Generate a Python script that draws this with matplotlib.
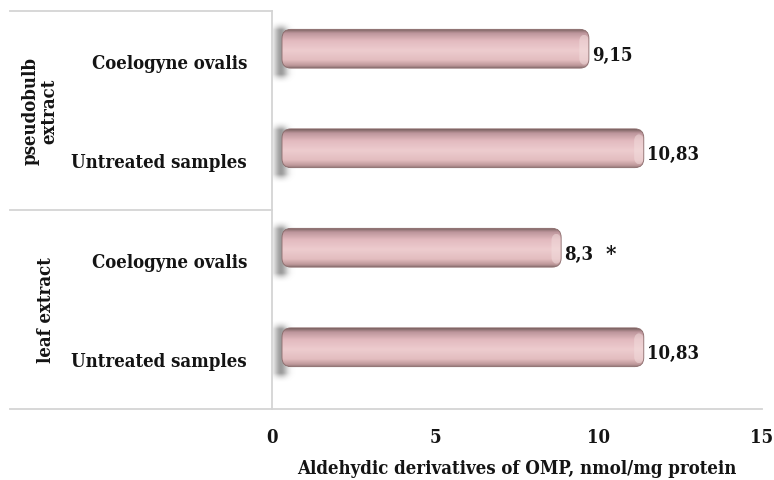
import numpy as np
import matplotlib.pyplot as plt
import matplotlib.transforms as mtransforms
from matplotlib.patches import FancyBboxPatch

# values (nmol/mg protein), bottom to top
categories = ["Untreated samples", "Coelogyne ovalis", "Untreated samples", "Coelogyne ovalis"]
values = [10.83, 8.3, 10.83, 9.15]
value_labels = ["10,83", "8,3", "10,83", "9,15"]
marks = ["", "*", "", ""]
groups = ["leaf extract", "pseudobulb\nextract"]
xticks = [0, 5, 10, 15]
xlabel = "Aldehydic derivatives of OMP, nmol/mg protein"

plt.rcParams['font.family'] = ['DejaVu Serif']
plt.rcParams['font.weight'] = 'bold'
plt.rcParams['font.stretch'] = 'condensed'
FS = 13.3
TXT = '#141414'

fig = plt.figure(figsize=(7.74, 4.81), dpi=100)
ax = fig.add_axes([272 / 774, 1 - 410 / 481, 490 / 774, 398 / 481])

ypos = np.arange(len(values))
bar_h = 0.39
ax.set_xlim(0, 15)
ax.set_ylim(-0.5, 3.5)

# 3D depth: bars shifted right/up in pixels
shift = mtransforms.ScaledTranslation(10 / 100, 12 / 100, fig.dpi_scale_trans)
tr = ax.transData + shift

# vertical shading of the cylinder
stops = [0.0, 0.06, 0.2, 0.45, 0.7, 0.9, 1.0]
cols = np.array([[0.55, 0.45, 0.45], [0.74, 0.59, 0.60], [0.89, 0.74, 0.75],
                 [0.93, 0.80, 0.81], [0.89, 0.73, 0.75], [0.74, 0.59, 0.61],
                 [0.48, 0.38, 0.38]])
t = np.linspace(0, 1, 80)
grad = np.stack([np.interp(t, stops, cols[:, k]) for k in range(3)], axis=-1)
grad = grad[:, None, :]

px_x = 490 / 15
px_y = 398 / 4
rad = 9 / px_x
aspect = (9 / px_y) / rad
cap = 8 / px_x

# soft shadow behind the left end of each bar
sx = np.linspace(-1, 1, 60)
sy = np.linspace(-1, 1, 100)
fade_y = np.clip((1 - np.abs(sy)) / 0.3, 0, 1) ** 2
shade_a = np.exp(-(sx[None, :] / 0.45) ** 2) * fade_y[:, None] * 0.6
shade = np.zeros((100, 60, 4))
shade[..., :3] = 0.35
shade[..., 3] = shade_a

for y, v in zip(ypos, values):
    ax.imshow(shade, extent=(-16 / px_x, 14 / px_x, y - bar_h / 2 - 16 / px_y, y + bar_h / 2 + 9 / px_y),
              aspect='auto', transform=tr, zorder=1, interpolation='bicubic')
    patch = FancyBboxPatch((0, y - bar_h / 2), v + cap, bar_h,
                           boxstyle=f"round,pad=0,rounding_size={rad}",
                           mutation_aspect=aspect, transform=tr,
                           facecolor='none', edgecolor='#8a6a6a', linewidth=0.6,
                           zorder=3)
    ax.add_patch(patch)
    im = ax.imshow(grad, extent=(0, v + cap, y + bar_h / 2, y - bar_h / 2),
                   aspect='auto', transform=tr, zorder=2, interpolation='bilinear')
    im.set_clip_path(patch)
    # lighter end face
    end = FancyBboxPatch((v - 0.05, y - bar_h / 2 + 0.03), cap + 0.05, bar_h - 0.08,
                         boxstyle=f"round,pad=0,rounding_size={rad * 0.8}",
                         mutation_aspect=aspect, transform=tr,
                         facecolor='#f3dede', edgecolor='none', alpha=0.5, zorder=2.5)
    ax.add_patch(end)

ax.set_xlim(0, 15)
ax.set_ylim(-0.5, 3.5)

# value labels
for y, v, lab, m in zip(ypos, values, value_labels, marks):
    ax.annotate(lab, (v, y), xytext=(21, 6), textcoords='offset pixels',
                ha='left', va='center', fontsize=FS, fontweight='bold', color=TXT)
    if m:
        ax.annotate(m, (v, y), xytext=(62, 6), textcoords='offset pixels',
                    ha='left', va='center', fontsize=16, fontweight='bold', color=TXT)

ax.set_yticks(ypos)
ax.set_yticklabels(categories, fontsize=FS, fontweight='bold', color=TXT)
ax.set_xticks(xticks)
ax.set_xticklabels([str(x) for x in xticks], fontsize=FS, fontweight='bold', color=TXT)
ax.tick_params(axis='y', length=0, pad=18)
ax.tick_params(axis='x', length=0, pad=14)
ax.set_xlabel(xlabel, fontsize=FS, fontweight='bold', labelpad=9, color=TXT)

for s in ['top', 'right', 'bottom']:
    ax.spines[s].set_visible(False)
ax.spines['left'].set_color('#d4d4d4')
ax.spines['left'].set_linewidth(1.3)

# category grouping lines on the left
ytr = ax.get_yaxis_transform()
x0 = (10 - 272) / 490
line_kw = dict(color='#d4d4d4', linewidth=1.3, clip_on=False, transform=ytr)
ax.plot([x0, 0], [3.5, 3.5], **line_kw)
ax.plot([x0, 0], [1.5, 1.5], **line_kw)
ax.plot([x0, 1.0], [-0.5, -0.5], **line_kw)

gx = (40 - 272) / 490
ax.text(gx + 0.012, 0.5, groups[0], transform=ytr, rotation=90, ha='center', va='center',
        fontsize=FS, fontweight='bold', color=TXT)
ax.text(gx, 2.5, groups[1], transform=ytr, rotation=90, ha='center', va='center',
        fontsize=FS, fontweight='bold', color=TXT, linespacing=1.0)

fig.savefig("out.png", dpi=100)
